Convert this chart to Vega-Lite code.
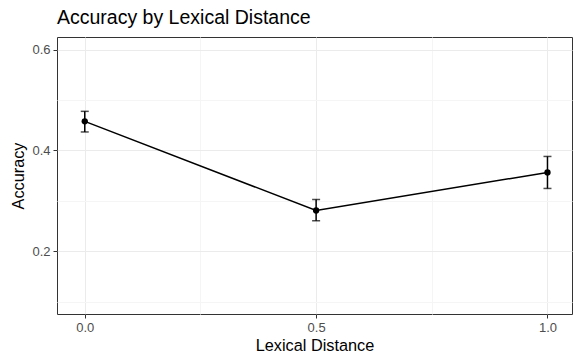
{
  "$schema": "https://vega.github.io/schema/vega-lite/v6.json",
  "width": 515,
  "height": 277,
  "autosize": {"type": "none"},
  "padding": {"left": 57, "top": 37, "right": 1, "bottom": 42},
  "background": "white",
  "title": {
    "text": "Accuracy by Lexical Distance",
    "anchor": "start",
    "frame": "group",
    "font": "Liberation Sans",
    "fontSize": 19.5,
    "fontWeight": "normal",
    "color": "black",
    "offset": 9
  },
  "config": {
    "view": {"stroke": "#333333", "strokeWidth": 1},
    "axis": {
      "labelFont": "Liberation Sans",
      "titleFont": "Liberation Sans",
      "labelFontSize": 13,
      "titleFontSize": 16.3,
      "titleFontWeight": "normal",
      "labelColor": "#4d4d4d",
      "titleColor": "black",
      "domain": false,
      "tickSize": 4,
      "tickWidth": 1,
      "labelPadding": 3
    }
  },
  "data": {
    "values": [
      {"dist": 0.0, "acc": 0.4576, "lo": 0.4366, "hi": 0.4775},
      {"dist": 0.5, "acc": 0.2808, "lo": 0.2603, "hi": 0.3026},
      {"dist": 1.0, "acc": 0.3563, "lo": 0.3245, "hi": 0.388}
    ]
  },
  "encoding": {
    "x": {
      "field": "dist",
      "type": "quantitative",
      "scale": {"domain": [-0.06, 1.053], "nice": false, "zero": false},
      "axis": {
        "title": "Lexical Distance",
        "values": [0, 0.25, 0.5, 0.75, 1.0],
        "format": ".1f",
        "labelExpr": "datum.value == 0.25 || datum.value == 0.75 ? '' : datum.label",
        "gridColor": {"condition": {"test": "datum.value == 0.25 || datum.value == 0.75", "value": "#f5f5f5"}, "value": "#ebebeb"},
        "tickColor": {"condition": {"test": "datum.value == 0.25 || datum.value == 0.75", "value": "transparent"}, "value": "#333333"},
        "titlePadding": 3
      }
    }
  },
  "layer": [
    {
      "mark": {"type": "line", "color": "black", "strokeWidth": 1.5},
      "encoding": {
        "y": {
          "field": "acc",
          "type": "quantitative",
          "scale": {"domain": [0.0754, 0.625], "nice": false, "zero": false},
          "axis": {
            "title": "Accuracy",
            "values": [0.1, 0.2, 0.3, 0.4, 0.5, 0.6],
            "format": ".1f",
            "labelExpr": "datum.value == 0.1 || datum.value == 0.3 || datum.value == 0.5 ? '' : datum.label",
            "gridColor": {"condition": {"test": "datum.value == 0.1 || datum.value == 0.3 || datum.value == 0.5", "value": "#f5f5f5"}, "value": "#ebebeb"},
            "tickColor": {"condition": {"test": "datum.value == 0.1 || datum.value == 0.3 || datum.value == 0.5", "value": "transparent"}, "value": "#333333"},
            "titlePadding": 5
          }
        }
      }
    },
    {
      "mark": {"type": "rule", "color": "black", "strokeWidth": 1.5},
      "encoding": {
        "y": {"field": "lo", "type": "quantitative"},
        "y2": {"field": "hi"}
      }
    },
    {
      "mark": {"type": "tick", "orient": "horizontal", "color": "black", "size": 8, "thickness": 1.5},
      "encoding": {"y": {"field": "lo", "type": "quantitative"}}
    },
    {
      "mark": {"type": "tick", "orient": "horizontal", "color": "black", "size": 8, "thickness": 1.5},
      "encoding": {"y": {"field": "hi", "type": "quantitative"}}
    },
    {
      "mark": {"type": "point", "filled": true, "color": "black", "size": 40, "opacity": 1},
      "encoding": {"y": {"field": "acc", "type": "quantitative"}}
    }
  ]
}
